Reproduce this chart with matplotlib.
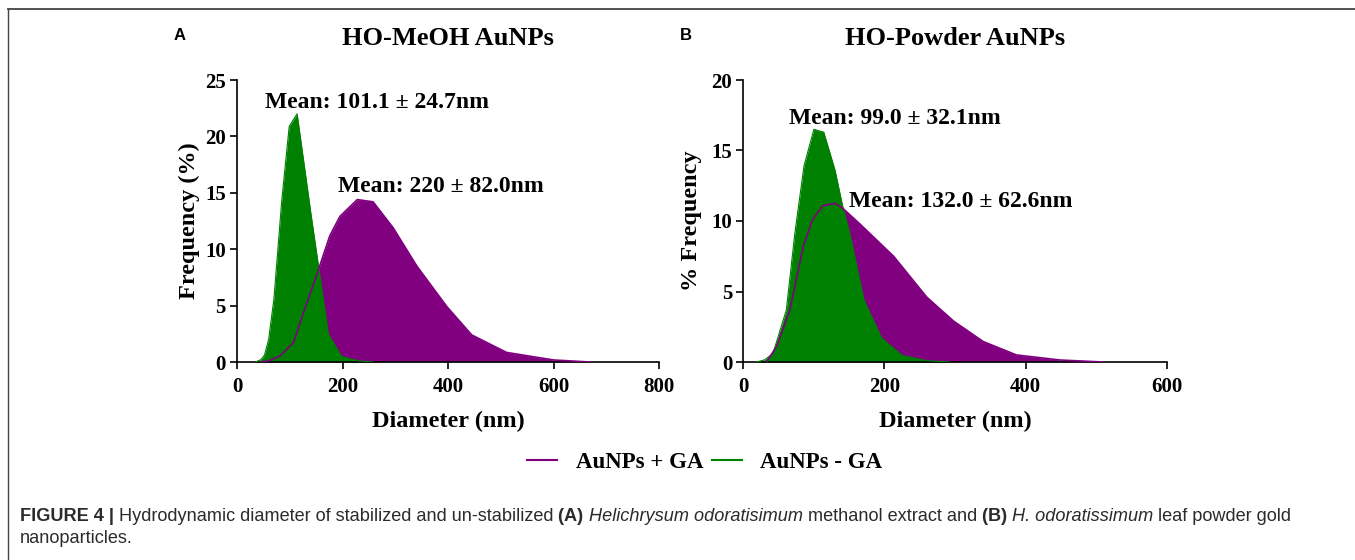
import matplotlib
matplotlib.use("Agg")
import matplotlib.pyplot as plt
from matplotlib.lines import Line2D
import numpy as np

# ---------------- data ----------------
# Panel A: HO-MeOH AuNPs
a_plus_x = [45, 60, 80, 107, 132, 151, 176, 195, 228, 258, 296, 341, 398, 445, 511, 600, 669]
a_plus_y = [0, 0.1, 0.5, 1.7, 5.2, 7.7, 11.2, 12.9, 14.4, 14.2, 11.9, 8.5, 4.9, 2.4, 0.85, 0.18, 0]
a_minus_x = [35, 45, 52, 60, 70, 85, 99, 114, 140, 173, 198, 230, 258]
a_minus_y = [0, 0.2, 0.6, 2.0, 5.6, 14.4, 20.9, 22.0, 13.2, 2.5, 0.5, 0.1, 0]

# Panel B: HO-Powder AuNPs
b_plus_x = [33, 47, 66, 85, 98, 113, 130, 141, 165, 213, 260, 298, 340, 387, 449, 510]
b_plus_y = [0, 1.1, 3.7, 8.2, 10.1, 11.1, 11.25, 10.9, 9.8, 7.5, 4.6, 2.9, 1.45, 0.5, 0.14, 0]
b_minus_x = [19, 30, 42, 61, 73, 86, 100, 114, 130, 141, 151, 171, 196, 225, 260, 293]
b_minus_y = [0, 0.15, 0.6, 3.7, 9.1, 13.9, 16.5, 16.3, 13.6, 11.0, 9.1, 4.4, 1.7, 0.47, 0.1, 0]

panel_titles = ["HO-MeOH AuNPs", "HO-Powder AuNPs"]
panel_letters = ["A", "B"]
ylabels = ["Frequency (%)", "% Frequency"]
xlabel = "Diameter (nm)"
series_names = ["AuNPs + GA", "AuNPs - GA"]
means_a = ["Mean: 101.1 \u00b1 24.7nm", "Mean: 220 \u00b1 82.0nm"]
means_b = ["Mean: 99.0 \u00b1 32.1nm", "Mean: 132.0 \u00b1 62.6nm"]
xticks_a = [0, 200, 400, 600, 800]
yticks_a = [0, 5, 10, 15, 20, 25]
xticks_b = [0, 200, 400, 600]
yticks_b = [0, 5, 10, 15, 20]

PURPLE = "#800080"
GREEN = "#008000"
SERIF = "Liberation Serif"
SANS = "Liberation Sans"

W, H = 1355, 560
fig = plt.figure(figsize=(W / 100, H / 100), dpi=100)

def px_axes(x0, x1, y_top, y_bot):
    return fig.add_axes([x0 / W, 1 - y_bot / H, (x1 - x0) / W, (y_bot - y_top) / H])

axA = px_axes(237, 659, 80, 362)
axB = px_axes(743.3, 1166.7, 80, 362)

def style(ax, xt, yt, ylab, ylpad):
    ax.set_xlim(xt[0], xt[-1])
    ax.set_ylim(yt[0], yt[-1])
    ax.set_xticks(xt)
    ax.set_yticks(yt)
    for s in ["top", "right"]:
        ax.spines[s].set_visible(False)
    for s in ["left", "bottom"]:
        ax.spines[s].set_linewidth(1.2)
    ax.tick_params(axis="x", direction="out", length=5, width=1.2, pad=6)
    ax.tick_params(axis="y", direction="out", length=5, width=1.2, pad=3)
    for lab in ax.get_xticklabels() + ax.get_yticklabels():
        lab.set_fontfamily(SERIF)
        lab.set_fontweight("bold")
        lab.set_fontsize(15)
    ax.set_xlabel(xlabel, fontfamily=SERIF, fontweight="bold", fontsize=17.5, labelpad=10)
    ax.set_ylabel(ylab, fontfamily=SERIF, fontweight="bold", fontsize=17.5, labelpad=ylpad)
    ax.patch.set_alpha(0)

def draw(ax, px, py, mx, my):
    ax.fill_between(px, py, 0, color=PURPLE, lw=0, zorder=1)
    ax.fill_between(mx, my, 0, color=GREEN, lw=0, zorder=2)
    ax.plot(mx, my, color=GREEN, lw=0.8, zorder=3)
    ax.plot(px, py, color=PURPLE, lw=1.2, zorder=4)

draw(axA, a_plus_x, a_plus_y, a_minus_x, a_minus_y)
draw(axB, b_plus_x, b_plus_y, b_minus_x, b_minus_y)
style(axA, xticks_a, yticks_a, ylabels[0], 4)
style(axB, xticks_b, yticks_b, ylabels[1], 7)

mean_kw = dict(fontfamily=SERIF, fontweight="bold", fontsize=17, va="baseline", ha="left", zorder=6)
axA.text(53, 22.5, means_a[0], **mean_kw)
axA.text(192, 15.1, means_a[1], **mean_kw)
axB.text(65, 16.9, means_b[0], **mean_kw)
axB.text(150, 10.97, means_b[1], **mean_kw)

# titles and panel letters
fig.text(447.5 / W, 1 - 45 / H, panel_titles[0], fontfamily=SERIF, fontweight="bold",
         fontsize=19, ha="center", va="baseline")
fig.text(955 / W, 1 - 45 / H, panel_titles[1], fontfamily=SERIF, fontweight="bold",
         fontsize=19, ha="center", va="baseline")
fig.text(174 / W, 1 - 40 / H, panel_letters[0], fontfamily=SANS, fontweight="bold",
         fontsize=12, ha="left", va="baseline")
fig.text(680 / W, 1 - 40 / H, panel_letters[1], fontfamily=SANS, fontweight="bold",
         fontsize=12, ha="left", va="baseline")

# legend
handles = [Line2D([], [], color=PURPLE, lw=1.5), Line2D([], [], color=GREEN, lw=1.5)]
fig.legend(handles, series_names, loc="center", bbox_to_anchor=(705 / W, 1 - 462 / H),
           ncol=2, frameon=False, handlelength=1.3, handletextpad=0.8, columnspacing=0.4,
           prop=dict(family=SERIF, weight="bold", size=16.5))

# frame lines (top and left)
fig.add_artist(Line2D([8 / W, 1], [1 - 8.5 / H, 1 - 8.5 / H], color="#444444", lw=1.3,
                      transform=fig.transFigure))
fig.add_artist(Line2D([8 / W, 8 / W], [1 - 8.5 / H, 0], color="#444444", lw=1.0,
                      transform=fig.transFigure))

# caption
cap_color = "#2b2b2b"
cap_size = 11.5
line1 = [("FIGURE 4 | ", "bold", "normal"),
         ("Hydrodynamic diameter of stabilized and un-stabilized ", "normal", "normal"),
         ("(A) ", "bold", "normal"),
         ("Helichrysum odoratisimum", "normal", "italic"),
         (" methanol extract and ", "normal", "normal"),
         ("(B) ", "bold", "normal"),
         ("H. odoratissimum", "normal", "italic"),
         (" leaf powder gold", "normal", "normal")]
line2 = [("nanoparticles.", "normal", "normal")]

renderer = fig.canvas.get_renderer()

def draw_line(parts, x0_px, base_px, size):
    x = x0_px
    for txt, wgt, sty in parts:
        t = fig.text(x / W, 1 - base_px / H, txt, fontfamily=SANS, fontweight=wgt,
                     fontstyle=sty, fontsize=size, color=cap_color, va="baseline", ha="left")
        bb = t.get_window_extent(renderer=renderer)
        x += bb.width
    return x

# fit line 1 to the reference width
probe = draw_line(line1, 20, -100, cap_size)
natural = probe - 20
for t in list(fig.texts):
    if t.get_position()[1] > 1.0:
        t.remove()
size = cap_size * (1277 / natural)
draw_line(line1, 20, 521, size)
draw_line(line2, 20, 543, size)

fig.savefig("out.png", dpi=100)
